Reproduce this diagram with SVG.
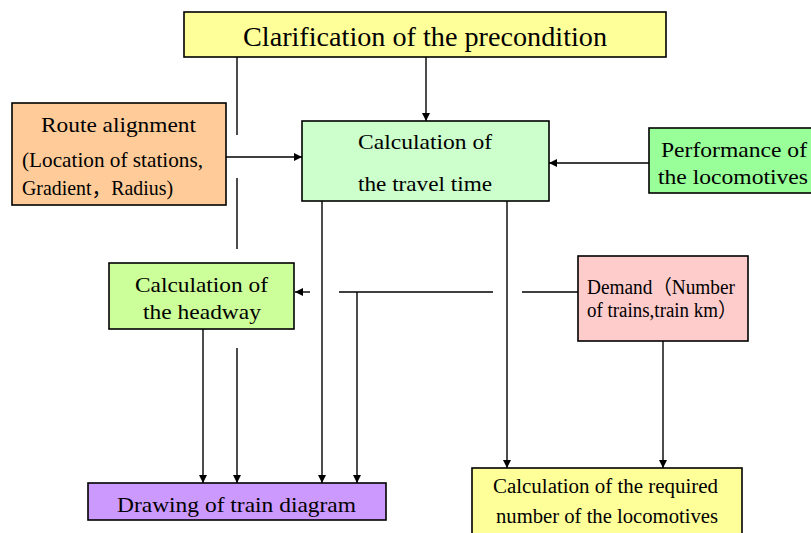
<svg xmlns="http://www.w3.org/2000/svg" width="811" height="533" viewBox="0 0 811 533">
<defs>
<marker id="ah" viewBox="0 0 10 10" refX="10" refY="5" markerWidth="8" markerHeight="8" markerUnits="userSpaceOnUse" orient="auto">
<path d="M0,0 L10,5 L0,10 z" fill="#000"/>
</marker>
</defs>
<style>
.box{stroke:#000;stroke-width:1.6}
.t{font-family:'Liberation Serif','Noto Sans CJK JP',serif;font-size:21px;fill:#000}
.ln{stroke:#000;stroke-width:1.4;fill:none}
.ar{stroke:#000;stroke-width:1.4;fill:none;marker-end:url(#ah)}
</style>
<rect width="811" height="533" fill="#fff"/>
<g id="connectors">
<line class="ln" x1="237" y1="57" x2="237" y2="135"/>
<line class="ln" x1="237" y1="178" x2="237" y2="249"/>
<line class="ar" x1="237" y1="348" x2="237" y2="483"/>
<line class="ar" x1="426" y1="57" x2="426" y2="121"/>
<line class="ar" x1="222" y1="157" x2="302" y2="157"/>
<line class="ar" x1="649" y1="163" x2="549" y2="163"/>
<line class="ar" x1="322" y1="201" x2="322" y2="483"/>
<line class="ar" x1="507" y1="201" x2="507" y2="468"/>
<line class="ln" x1="522" y1="292" x2="578" y2="292"/>
<line class="ln" x1="339" y1="292" x2="493" y2="292"/>
<line class="ar" x1="310" y1="292" x2="295" y2="292"/>
<line class="ar" x1="357" y1="292" x2="357" y2="483"/>
<line class="ar" x1="203" y1="329" x2="203" y2="483"/>
<line class="ar" x1="663" y1="341" x2="663" y2="468"/>
</g>
<g id="precondition">
<rect class="box" x="184" y="12" width="482" height="45" fill="#FFFF99"/>
<text class="t" x="243" y="46" style="font-size:28px" textLength="364" lengthAdjust="spacingAndGlyphs">Clarification of the precondition</text>
</g>
<g id="route">
<rect class="box" x="12" y="103" width="214" height="102" fill="#FFCC99"/>
<text class="t" x="41" y="132" textLength="155" lengthAdjust="spacingAndGlyphs">Route alignment</text>
<text class="t" x="22" y="167" textLength="181" lengthAdjust="spacingAndGlyphs">(Location of stations,</text>
<text class="t" x="22" y="195" textLength="151" lengthAdjust="spacingAndGlyphs">Gradient，Radius)</text>
</g>
<g id="traveltime">
<rect class="box" x="302" y="121" width="247" height="80" fill="#CCFFCC"/>
<text class="t" x="358" y="149" textLength="134" lengthAdjust="spacingAndGlyphs">Calculation of</text>
<text class="t" x="358" y="191" textLength="134" lengthAdjust="spacingAndGlyphs">the travel time</text>
</g>
<g id="performance">
<rect class="box" x="649" y="128" width="170" height="65" fill="#99FF99"/>
<text class="t" x="661" y="157" textLength="146" lengthAdjust="spacingAndGlyphs">Performance of</text>
<text class="t" x="658" y="184" textLength="150" lengthAdjust="spacingAndGlyphs">the locomotives</text>
</g>
<g id="headway">
<rect class="box" x="109" y="263" width="185" height="66" fill="#CCFF99"/>
<text class="t" x="135" y="292" textLength="133" lengthAdjust="spacingAndGlyphs">Calculation of</text>
<text class="t" x="143" y="319" textLength="118" lengthAdjust="spacingAndGlyphs">the headway</text>
</g>
<g id="demand">
<rect class="box" x="578" y="256" width="170" height="85" fill="#FFCCCC"/>
<text class="t" x="587" y="294" style="font-size:20px" textLength="148" lengthAdjust="spacingAndGlyphs">Demand（Number</text>
<text class="t" x="587" y="317" style="font-size:20px" textLength="150" lengthAdjust="spacingAndGlyphs">of trains,train km）</text>
</g>
<g id="drawing">
<rect class="box" x="88" y="483" width="298" height="37" fill="#CC99FF"/>
<text class="t" x="117" y="512" textLength="239" lengthAdjust="spacingAndGlyphs">Drawing of train diagram</text>
</g>
<g id="required">
<rect class="box" x="472" y="468" width="270" height="70" fill="#FFFF99"/>
<text class="t" x="493" y="493" style="font-size:20px" textLength="225" lengthAdjust="spacingAndGlyphs">Calculation of the required</text>
<text class="t" x="496" y="523" style="font-size:20px" textLength="222" lengthAdjust="spacingAndGlyphs">number of the locomotives</text>
</g>
</svg>
